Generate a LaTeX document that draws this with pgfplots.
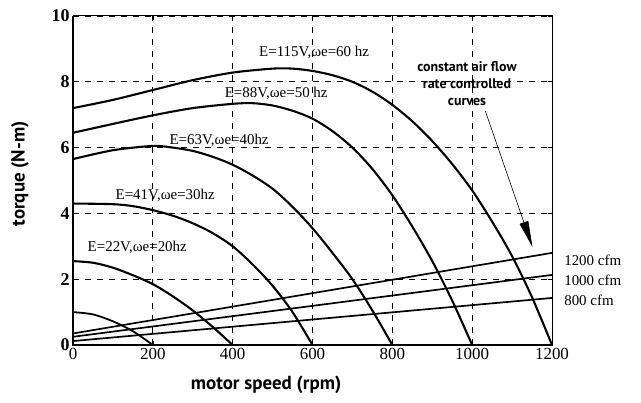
\documentclass[border=0pt]{standalone}
\usepackage{fontspec}
\setmainfont{Liberation Serif}
\newfontfamily\labfont{PT Sans}
\usepackage{pgfplots}
\pgfplotsset{compat=1.18}
\usetikzlibrary{arrows.meta}
\begin{document}
\begin{tikzpicture}
\begin{axis}[
  scale only axis,
  width=479bp, height=329bp,
  xmin=0, xmax=1200, ymin=0, ymax=10,
  xtick={0,200,...,1200}, ytick={0,2,...,10},
  /pgf/number format/assume math mode=true,
  /pgf/number format/1000 sep={},
  xticklabel style={font=\fontsize{17}{17}\selectfont},
  yticklabel style={font=\fontsize{18}{18}\selectfont\bfseries},
  tick align=inside, major tick length=4bp,
  tick style={black, line width=0.6pt},
  grid=major,
  major grid style={black, line width=0.7pt, dash pattern=on 6bp off 6bp},
  axis line style={black, line width=1pt},
  clip=false,
]
% torque-speed curves
\addplot[black, line width=2.1pt, smooth] coordinates {
  (0,7.2) (100,7.45) (200,7.75) (300,8.05) (400,8.28) (500,8.4) (550,8.4)
  (600,8.33) (650,8.2) (700,8.0) (750,7.7) (800,7.3) (850,6.8) (900,6.2)
  (950,5.5) (1000,4.7) (1050,3.75) (1100,2.7) (1150,1.45) (1200,0)};
\addplot[black, line width=2.1pt, smooth] coordinates {
  (0,6.45) (100,6.72) (200,6.98) (300,7.2) (400,7.33) (450,7.35) (500,7.28)
  (550,7.12) (600,6.88) (650,6.5) (700,6.0) (750,5.35) (800,4.55) (850,3.6)
  (900,2.55) (950,1.35) (1000,0)};
\addplot[black, line width=2.1pt, smooth] coordinates {
  (0,5.65) (100,5.92) (200,6.05) (250,6.0) (300,5.9) (350,5.72) (400,5.48)
  (450,5.15) (500,4.75) (550,4.2) (600,3.55) (650,2.8) (700,2.0) (750,1.05) (800,0)};
\addplot[black, line width=2.1pt, smooth] coordinates {
  (0,4.3) (100,4.28) (150,4.22) (200,4.1) (250,3.93) (300,3.7) (350,3.4)
  (400,3.0) (450,2.45) (500,1.8) (550,1.0) (600,0)};
\addplot[black, line width=2.1pt, smooth] coordinates {
  (0,2.55) (50,2.5) (100,2.35) (150,2.12) (200,1.85) (250,1.48) (300,1.05)
  (350,0.55) (400,0)};
\addplot[black, line width=1.8pt, smooth] coordinates {
  (0,1.0) (50,0.93) (100,0.72) (150,0.42) (200,0)};
% constant air flow lines
\addplot[black, line width=1.7pt] coordinates {(0,0.35) (1200,2.8)};
\addplot[black, line width=1.7pt] coordinates {(0,0.25) (1200,2.13)};
\addplot[black, line width=1.7pt] coordinates {(0,0.12) (1200,1.43)};

\draw[black, line width=2pt] (rel axis cs:0,1) -- (rel axis cs:0,0) -- (rel axis cs:1,0);

\begin{scope}[font=\fontsize{15}{15}\selectfont]
\node at (axis cs:604,8.88) {E=115V,ωe=60 hz};
\node at (axis cs:509,7.66) {E=88V,ωe=50 hz};
\node at (axis cs:366,6.23) {E=63V,ωe=40hz};
\node at (axis cs:231,4.56) {E=41V,ωe=30hz};
\node at (axis cs:161,2.95) {E=22V,ωe=20hz};
\node[anchor=west] at (axis cs:1222,2.58) {1200 cfm};
\node[anchor=west] at (axis cs:1222,1.98) {1000 cfm};
\node[anchor=west] at (axis cs:1222,1.37) {800 cfm};
\end{scope}
\node[align=center, font=\labfont\fontsize{14}{17}\selectfont\bfseries]
  at (axis cs:987,7.95) {constant air flow\\rate controlled\\curves};
\draw[black, line width=0.6pt, -{Triangle[length=26bp, width=9bp]}]
  (axis cs:1033,7.11) -- (axis cs:1151,2.98);

\node[font=\labfont\fontsize{19}{19}\selectfont\bfseries]
  at ([yshift=-40bp]rel axis cs:0.403,0) {motor speed (rpm)};
\node[font=\labfont\fontsize{19}{19}\selectfont\bfseries, rotate=90]
  at ([xshift=-53bp]rel axis cs:0,0.52) {torque (N-m)};
\end{axis}
\path[use as bounding box] ([shift={(-73bp,-58bp)}]current axis.south west)
  rectangle ([shift={(89bp,16bp)}]current axis.north east);
\end{tikzpicture}
\end{document}
